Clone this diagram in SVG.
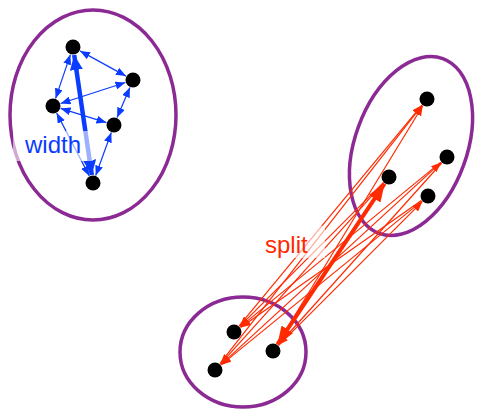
<svg xmlns="http://www.w3.org/2000/svg" width="480" height="409" viewBox="0 0 480 409">
<style>
.cl{fill:none;stroke:#8B2A94;stroke-width:3.5}
.nd{fill:#000}
.b{stroke:#0A3CFF;stroke-width:1.2;fill:none}
.bt{stroke:#0A3CFF;stroke-width:4.5;fill:none}
.r{stroke:#FF2A00;stroke-width:1.2;fill:none}
.rt{stroke:#FF2A00;stroke-width:4;fill:none}
.lbl{font-family:"Liberation Sans",Arial,sans-serif;font-size:24px}
</style>
<defs>
<marker id="bh" markerUnits="userSpaceOnUse" markerWidth="11" markerHeight="8" refX="10" refY="4" orient="auto-start-reverse"><path d="M0,0 L10,4 L0,8 z" fill="#0A3CFF"/></marker>
<marker id="bth" markerUnits="userSpaceOnUse" markerWidth="16" markerHeight="13" refX="15" refY="6.5" orient="auto-start-reverse"><path d="M0,0 L15,6.5 L0,13 z" fill="#0A3CFF"/></marker>
<marker id="rh" markerUnits="userSpaceOnUse" markerWidth="11" markerHeight="8" refX="10" refY="4" orient="auto"><path d="M0,0 L10,4 L0,8 z" fill="#FF2A00"/></marker>
<marker id="rth" markerUnits="userSpaceOnUse" markerWidth="19" markerHeight="14" refX="18" refY="7" orient="auto-start-reverse"><path d="M0,0 L18,7 L0,14 z" fill="#FF2A00"/></marker>
</defs>
<g id="cluster-left"><ellipse class="cl" cx="93" cy="115" rx="83" ry="105"/></g>
<g id="cluster-right"><ellipse class="cl" cx="411" cy="146" rx="56" ry="93" transform="rotate(20 411 146)"/></g>
<g id="cluster-bottom"><ellipse class="cl" cx="243" cy="352" rx="63" ry="55"/></g>
<g id="connectors">
<g marker-start="url(#bh)" marker-end="url(#bh)">
<line class="b" x1="80" y1="50.9" x2="126" y2="76.1"/>
<line class="b" x1="70.4" y1="54.6" x2="55.6" y2="98.4"/>
<line class="b" x1="125.4" y1="82.5" x2="60.6" y2="103.5"/>
<line class="b" x1="60.6" y1="108.4" x2="106.4" y2="122.6"/>
<line class="b" x1="129.9" y1="87.4" x2="117.1" y2="117.6"/>
<line class="b" x1="56.7" y1="113.1" x2="89.3" y2="175.9"/>
<line class="b" x1="111.3" y1="132.5" x2="95.7" y2="175.5"/>
</g>
<line class="bt" x1="74.2" y1="55" x2="91.8" y2="175" marker-start="url(#bth)" marker-end="url(#bth)"/>
<g marker-end="url(#rh)">
<line class="r" x1="239.1" y1="325.8" x2="421.9" y2="105.2"/>
<line class="r" x1="277.2" y1="344.2" x2="422.8" y2="105.8"/>
<line class="r" x1="219.9" y1="363.7" x2="422.1" y2="105.3"/>
<line class="r" x1="220.9" y1="364.6" x2="441.1" y2="162.4"/>
<line class="r" x1="278.7" y1="345.3" x2="422.3" y2="201.7"/>
<line class="r" x1="440.8" y1="162.1" x2="240.2" y2="326.9"/>
<line class="r" x1="383.3" y1="182.7" x2="239.7" y2="326.3"/>
<line class="r" x1="421.4" y1="200.6" x2="240.6" y2="327.4"/>
<line class="r" x1="421.8" y1="201.1" x2="221.2" y2="364.9"/>
<line class="r" x1="383.6" y1="182.9" x2="220.4" y2="364.1"/>
<line class="r" x1="441.7" y1="163" x2="278.3" y2="345"/>
</g>
<line class="rt" x1="277.4" y1="344.3" x2="384.6" y2="183.7" marker-start="url(#rth)" marker-end="url(#rth)"/>
</g>
<g id="label-width"><rect x="13" y="131" width="80" height="30" fill="#fff" opacity="0.6"/><text class="lbl" x="25" y="153" fill="#0A3CFF">width</text></g>
<g id="label-split"><rect x="263" y="226" width="62" height="32" fill="#fff" opacity="0.6"/><text class="lbl" x="265" y="253" fill="#FF2A00">split</text></g>
<g id="nodes">
<g id="n1"><circle class="nd" cx="73" cy="47" r="7.5"/></g>
<g id="n2"><circle class="nd" cx="133" cy="80" r="7.5"/></g>
<g id="n3"><circle class="nd" cx="53" cy="106" r="7.5"/></g>
<g id="n4"><circle class="nd" cx="114" cy="125" r="7.5"/></g>
<g id="n5"><circle class="nd" cx="93" cy="183" r="7.5"/></g>
<g id="n6"><circle class="nd" cx="427" cy="99" r="7.5"/></g>
<g id="n7"><circle class="nd" cx="447" cy="157" r="7.5"/></g>
<g id="n8"><circle class="nd" cx="389" cy="177" r="7.5"/></g>
<g id="n9"><circle class="nd" cx="428" cy="196" r="7.5"/></g>
<g id="n10"><circle class="nd" cx="234" cy="332" r="7.5"/></g>
<g id="n11"><circle class="nd" cx="273" cy="351" r="7.5"/></g>
<g id="n12"><circle class="nd" cx="215" cy="370" r="7.5"/></g>
</g>
</svg>
